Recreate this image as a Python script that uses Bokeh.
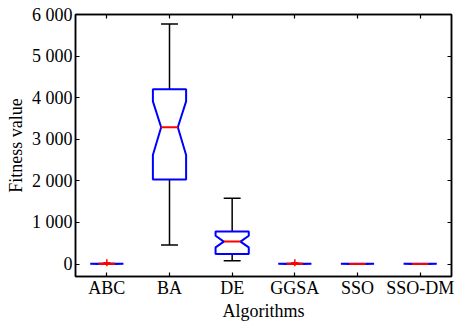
import numpy as np
from bokeh.plotting import figure
from bokeh.models import LinearAxis, FixedTicker, Range1d, ColumnDataSource, CustomJSTickFormatter
from bokeh.embed import file_html
from bokeh.resources import INLINE

# ---- data ----
algorithms = ["ABC", "BA", "DE", "GGSA", "SSO", "SSO-DM"]
q1 = [0, 2030, 240, 0, 0, 0]
median = [0, 3290, 540, 0, 0, 0]
q3 = [5, 4200, 780, 5, 4, 4]
notch_lo = [0, 2620, 400, 0, 0, 0]
notch_hi = [5, 3910, 680, 5, 4, 4]
whisker_lo = [0, 460, 80, 0, 0, 0]
whisker_hi = [10, 5770, 1580, 10, 4, 4]
outlier_alg = ["ABC", "GGSA"]
outlier_val = [30, 30]
y_ticks = [0, 1000, 2000, 3000, 4000, 5000, 6000]
y_tick_labels = ["0", "1 000", "2 000", "3 000", "4 000", "5 000", "6 000"]

FONT = "Liberation Serif"
FS = "18px"

p = figure(width=460, height=324, output_backend="svg", toolbar_location=None,
           x_range=Range1d(0.5, len(algorithms) + 0.5), y_range=Range1d(-300, 6000),
           min_border_left=75, min_border_right=9, min_border_top=14, min_border_bottom=48)
p.xgrid.visible = False
p.ygrid.visible = False
p.outline_line_color = "black"
p.outline_line_width = 1.5
p.background_fill_color = "white"
p.border_fill_color = "white"

xpos = list(range(1, len(algorithms) + 1))
hw, nw, cw = 0.265, 0.133, 0.135

# whiskers
src_w = ColumnDataSource(dict(x=xpos, q1=q1, q3=q3, wlo=whisker_lo, whi=whisker_hi,
                              xl=[x - cw for x in xpos], xr=[x + cw for x in xpos]))
p.segment(x0="x", y0="q3", x1="x", y1="whi", source=src_w, line_color="black", line_width=1.5)
p.segment(x0="x", y0="q1", x1="x", y1="wlo", source=src_w, line_color="black", line_width=1.5)
p.segment(x0="xl", y0="whi", x1="xr", y1="whi", source=src_w, line_color="black", line_width=1.5)
p.segment(x0="xl", y0="wlo", x1="xr", y1="wlo", source=src_w, line_color="black", line_width=1.5)

# notched boxes
xs, ys = [], []
for c, a, m, b, nl, nh in zip(xpos, q1, median, q3, notch_lo, notch_hi):
    xs.append([c - hw, c + hw, c + hw, c + nw, c + hw, c + hw, c - hw, c - hw, c - nw, c - hw, c - hw])
    ys.append([a, a, nl, m, nh, b, b, nh, m, nl, a])
p.patches(xs=xs, ys=ys, fill_color="white", line_color="#0000FF", line_width=2)

# medians
src_m = ColumnDataSource(dict(xl=[x - nw for x in xpos], xr=[x + nw for x in xpos], m=median))
p.segment(x0="xl", y0="m", x1="xr", y1="m", source=src_m, line_color="#FF0000", line_width=2)

# outliers
ox = [xpos[algorithms.index(a)] for a in outlier_alg]
p.scatter(ox, outlier_val, marker="cross", size=7, line_color="#FF0000", line_width=1.5)

# axes
def style(ax, labels=True):
    ax.axis_line_color = "black"
    ax.axis_line_width = 1.5
    ax.major_tick_in = 4
    ax.major_tick_out = 0
    ax.minor_tick_in = 0
    ax.minor_tick_out = 0
    ax.major_tick_line_color = "black"
    ax.major_tick_line_width = 1.2
    ax.major_label_text_font = FONT
    ax.major_label_text_font_size = FS
    ax.major_label_text_color = "black"
    ax.axis_label_text_font = FONT
    ax.axis_label_text_font_size = FS
    ax.axis_label_text_font_style = "normal"
    ax.axis_label_text_color = "black"
    if not labels:
        ax.formatter = CustomJSTickFormatter(code="return ''")
        ax.major_label_standoff = 0

xticker = FixedTicker(ticks=xpos)
yticker = FixedTicker(ticks=y_ticks)

p.xaxis.ticker = xticker
p.xaxis.major_label_overrides = {x: a for x, a in zip(xpos, algorithms)}
p.xaxis.axis_label = "Algorithms"
style(p.xaxis[0])
p.xaxis.major_label_standoff = 1
p.xaxis.axis_label_standoff = 0

p.yaxis.ticker = yticker
p.yaxis.major_label_overrides = {t: l for t, l in zip(y_ticks, y_tick_labels)}
p.yaxis.axis_label = "Fitness value"
style(p.yaxis[0])
p.yaxis.major_label_standoff = 3
p.yaxis.axis_label_standoff = 3

top = LinearAxis(ticker=xticker)
style(top, labels=False)
p.add_layout(top, "above")
right = LinearAxis(ticker=yticker)
style(right, labels=False)
p.add_layout(right, "right")

open("out.html", "w").write(file_html(p, INLINE))
